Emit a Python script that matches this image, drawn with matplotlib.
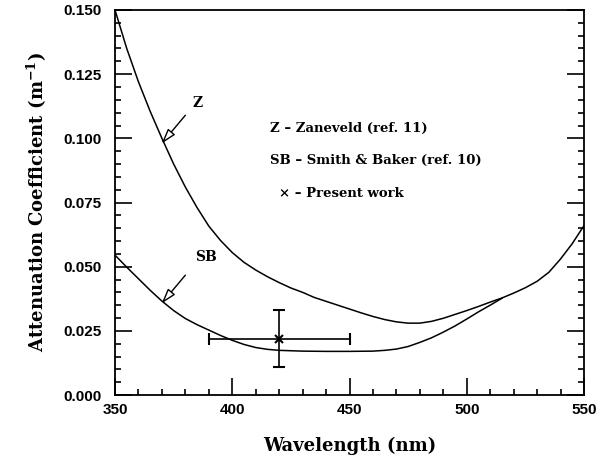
import numpy as np
import matplotlib
matplotlib.use("Agg")
import matplotlib.pyplot as plt
from matplotlib.ticker import MultipleLocator, FormatStrFormatter

# Zaneveld curve (ref. 11)
zWave = [350, 355, 360, 365, 370, 375, 380, 385, 390, 395, 400, 405, 410, 415,
         420, 425, 430, 435, 440, 445, 450, 455, 460, 465, 470, 475, 480, 485,
         490, 495, 500, 505, 510, 515, 520, 525, 530, 535, 540, 545, 550]
zAtten = [0.150, 0.135, 0.122, 0.1105, 0.100, 0.090, 0.081, 0.073, 0.0658, 0.0602,
          0.0555, 0.0517, 0.0487, 0.0461, 0.0438, 0.0417, 0.040, 0.038, 0.0365,
          0.035, 0.0335, 0.032, 0.0306, 0.0294, 0.0285, 0.028, 0.028, 0.0287,
          0.0299, 0.0314, 0.0329, 0.0345, 0.0362, 0.0378, 0.0397, 0.0418, 0.0443,
          0.0478, 0.053, 0.059, 0.066]

# Smith & Baker curve (ref. 10)
sbWave = [350, 355, 360, 365, 370, 375, 380, 385, 390, 395, 400, 405, 410, 415,
          420, 430, 440, 450, 460, 465, 470, 475, 480, 485, 490, 495, 500, 505,
          510, 515]
sbAtten = [0.0545, 0.0498, 0.0453, 0.0408, 0.0366, 0.0329, 0.0298, 0.0274, 0.0253,
           0.0232, 0.0213, 0.0197, 0.0185, 0.0178, 0.0174, 0.0171, 0.017, 0.017,
           0.0171, 0.0174, 0.0179, 0.0189, 0.0205, 0.0223, 0.0245, 0.0269,
           0.0296, 0.0324, 0.035, 0.0377]

# Present work measurement
pwWave = 420
pwAtten = 0.022
pwWaveErr = 30
pwAttenErr = 0.011

legendLines = ["Z \u2013 Zaneveld (ref. 11)",
               "SB \u2013 Smith & Baker (ref. 10)",
               "\u00d7 \u2013 Present work"]

plt.rcParams['mathtext.fontset'] = 'dejavuserif'
serif = dict(family="DejaVu Serif", fontweight="bold")

fig = plt.figure(figsize=(6.06, 4.65), dpi=100)
ax = fig.add_axes([0.1898, 0.1505, 0.7739, 0.828])

ax.plot(zWave, zAtten, color="black", lw=1.1)
ax.plot(sbWave, sbAtten, color="black", lw=1.1)
ax.errorbar(pwWave, pwAtten, xerr=pwWaveErr, yerr=pwAttenErr, fmt="x",
            color="black", ms=6, mew=1.5, elinewidth=1.2, capsize=4, capthick=1.2)

arrowStyle = dict(arrowstyle="-|>,head_length=0.9,head_width=0.28",
                  fc="white", ec="black", lw=1.0, shrinkA=0, shrinkB=0)
ax.annotate("", xy=(369.9, 0.098), xytext=(380, 0.109), arrowprops=arrowStyle)
ax.annotate("", xy=(369.9, 0.0357), xytext=(380, 0.0467), arrowprops=arrowStyle)
ax.text(383, 0.1137, "Z", fontsize=10, va="center", ha="left", **serif)
ax.text(384, 0.0539, "SB", fontsize=10, va="center", ha="left", **serif)

ax.text(416.1, 0.104, legendLines[0], fontsize=9.5, va="center", **serif)
ax.text(416.1, 0.0912, legendLines[1], fontsize=9.5, va="center", **serif)
ax.text(420.0, 0.0787, legendLines[2], fontsize=9.5, va="center", **serif)

ax.set_xlim(350, 550)
ax.set_ylim(0, 0.150)
ax.xaxis.set_major_locator(MultipleLocator(50))
ax.xaxis.set_minor_locator(MultipleLocator(10))
ax.yaxis.set_major_locator(MultipleLocator(0.025))
ax.yaxis.set_minor_locator(MultipleLocator(0.005))
ax.yaxis.set_major_formatter(FormatStrFormatter("%.3f"))

ax.tick_params(which="both", direction="in", top=False, right=True, width=1.2)
ax.tick_params(which="major", length=12)
ax.tick_params(which="minor", length=4.5)
ax.tick_params(axis="x", pad=6)
ax.tick_params(axis="y", pad=10)
for lab in ax.get_xticklabels() + ax.get_yticklabels():
    lab.set_family("Liberation Sans")
    lab.set_fontweight("bold")
    lab.set_fontsize(11)
for sp in ax.spines.values():
    sp.set_linewidth(1.3)

ax.set_xlabel("Wavelength (nm)", fontsize=13, labelpad=14, **serif)
ax.set_ylabel(r"Attenuation Coefficient (m$^{\mathbf{-1}}$)", fontsize=13,
              labelpad=10, **serif)

fig.savefig("out.png", dpi=100)
